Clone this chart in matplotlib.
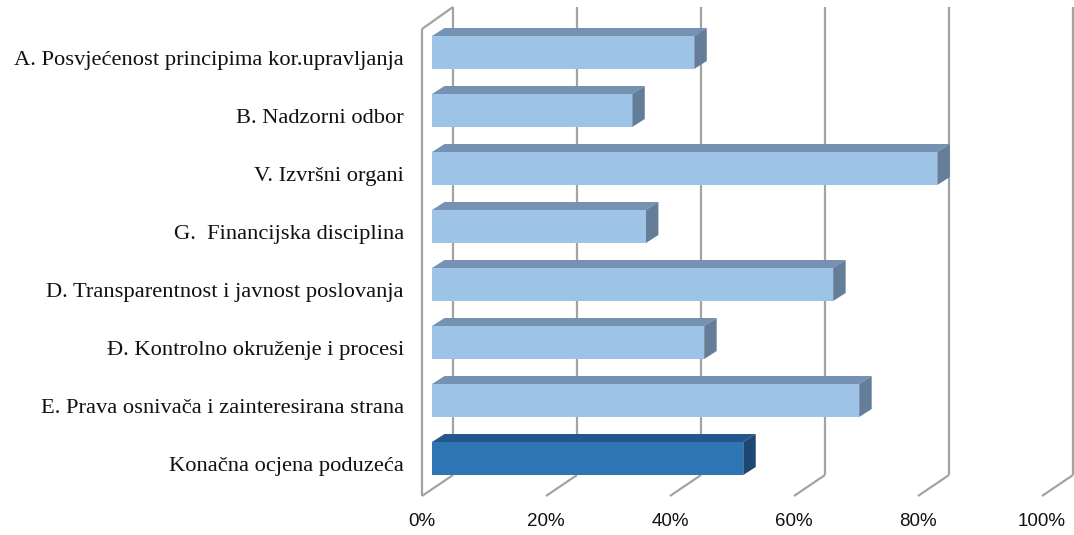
import matplotlib
matplotlib.use("Agg")
import matplotlib.pyplot as plt
from matplotlib.patches import Polygon, Rectangle

# ---- data ----
categories = [
    "A. Posvjećenost principima kor.upravljanja",
    "B. Nadzorni odbor",
    "V. Izvršni organi",
    "G.  Financijska disciplina",
    "D. Transparentnost i javnost poslovanja",
    "Đ. Kontrolno okruženje i procesi",
    "E. Prava osnivača i zainteresirana strana",
    "Konačna ocjena poduzeća",
]
values = [42.3, 32.3, 81.5, 34.5, 64.7, 43.9, 68.9, 50.2]
highlight = [False, False, False, False, False, False, False, True]
ticks = [0, 20, 40, 60, 80, 100]
tick_labels = ["0%", "20%", "40%", "60%", "80%", "100%"]

# ---- figure / layout ----
W, H = 1074, 535
fig = plt.figure(figsize=(W / 100, H / 100), dpi=100)
PX0, PX100 = 432, 1052          # bar front plane: 0% and 100% in pixels
PY_TOP, PY_BOT = 7, 496
PITCH = 58.0
Y0 = 52.5                        # centre of first bar in pixels
ax = fig.add_axes([PX0 / W, (H - PY_BOT) / H, (PX100 - PX0) / W, (PY_BOT - PY_TOP) / H])
ax.set_xlim(0, 100)
ax.set_ylim((PY_BOT - Y0) / PITCH, (PY_TOP - Y0) / PITCH)
ax.axis("off")

sx = 100.0 / (PX100 - PX0)       # data units per pixel (x)
sy = 1.0 / PITCH                 # data units per pixel (y)

def yd(py):
    return (py - Y0) / PITCH

# depth geometry of walls
FRONT_OFF = (422 - PX0) * sx
BACK_OFF = (453 - PX0) * sx
grid_kw = dict(color="#a3a3a3", lw=1.6, solid_capstyle="butt", clip_on=False, zorder=1)

for t in ticks:
    xb = t + BACK_OFF
    xf = t + FRONT_OFF
    ax.plot([xb, xb], [yd(PY_TOP), yd(475)], **grid_kw)
    ax.plot([xb, xf], [yd(475), yd(PY_BOT)], **grid_kw)
# left wall front edge and top
ax.plot([FRONT_OFF, FRONT_OFF], [yd(29), yd(PY_BOT)], **grid_kw)
ax.plot([FRONT_OFF, BACK_OFF], [yd(29), yd(PY_TOP)], **grid_kw)

# ---- bars ----
half = 16.5 * sy
ddx = 12.5 * sx
ddy = 8 * sy
for i, (v, hl) in enumerate(zip(values, highlight)):
    if hl:
        cf, ct, cs = "#2E75B6", "#23578C", "#1E4873"
    else:
        cf, ct, cs = "#9DC3E6", "#7692B2", "#647D98"
    top, bot = i - half, i + half
    ax.add_patch(Polygon([(0, top), (v, top), (v + ddx, top - ddy), (ddx, top - ddy)],
                         closed=True, facecolor=ct, edgecolor="none", zorder=3, clip_on=False))
    ax.add_patch(Polygon([(v, top), (v + ddx, top - ddy), (v + ddx, bot - ddy), (v, bot)],
                         closed=True, facecolor=cs, edgecolor="none", zorder=3, clip_on=False))
    ax.add_patch(Rectangle((0, top), v, bot - top, facecolor=cf, edgecolor="none",
                           zorder=4, clip_on=False))
    ax.text((404 - PX0) * sx, i + 8 * sy, categories[i], ha="right", va="center",
            family="Liberation Serif", fontsize=16.2, color="#111111", clip_on=False)

for t, lab in zip(ticks, tick_labels):
    ax.text(t + FRONT_OFF, yd(522), lab, ha="center", va="center",
            family="Liberation Sans", fontsize=13.5, color="#111111", clip_on=False)

fig.savefig("out.png", dpi=100, facecolor="white")
